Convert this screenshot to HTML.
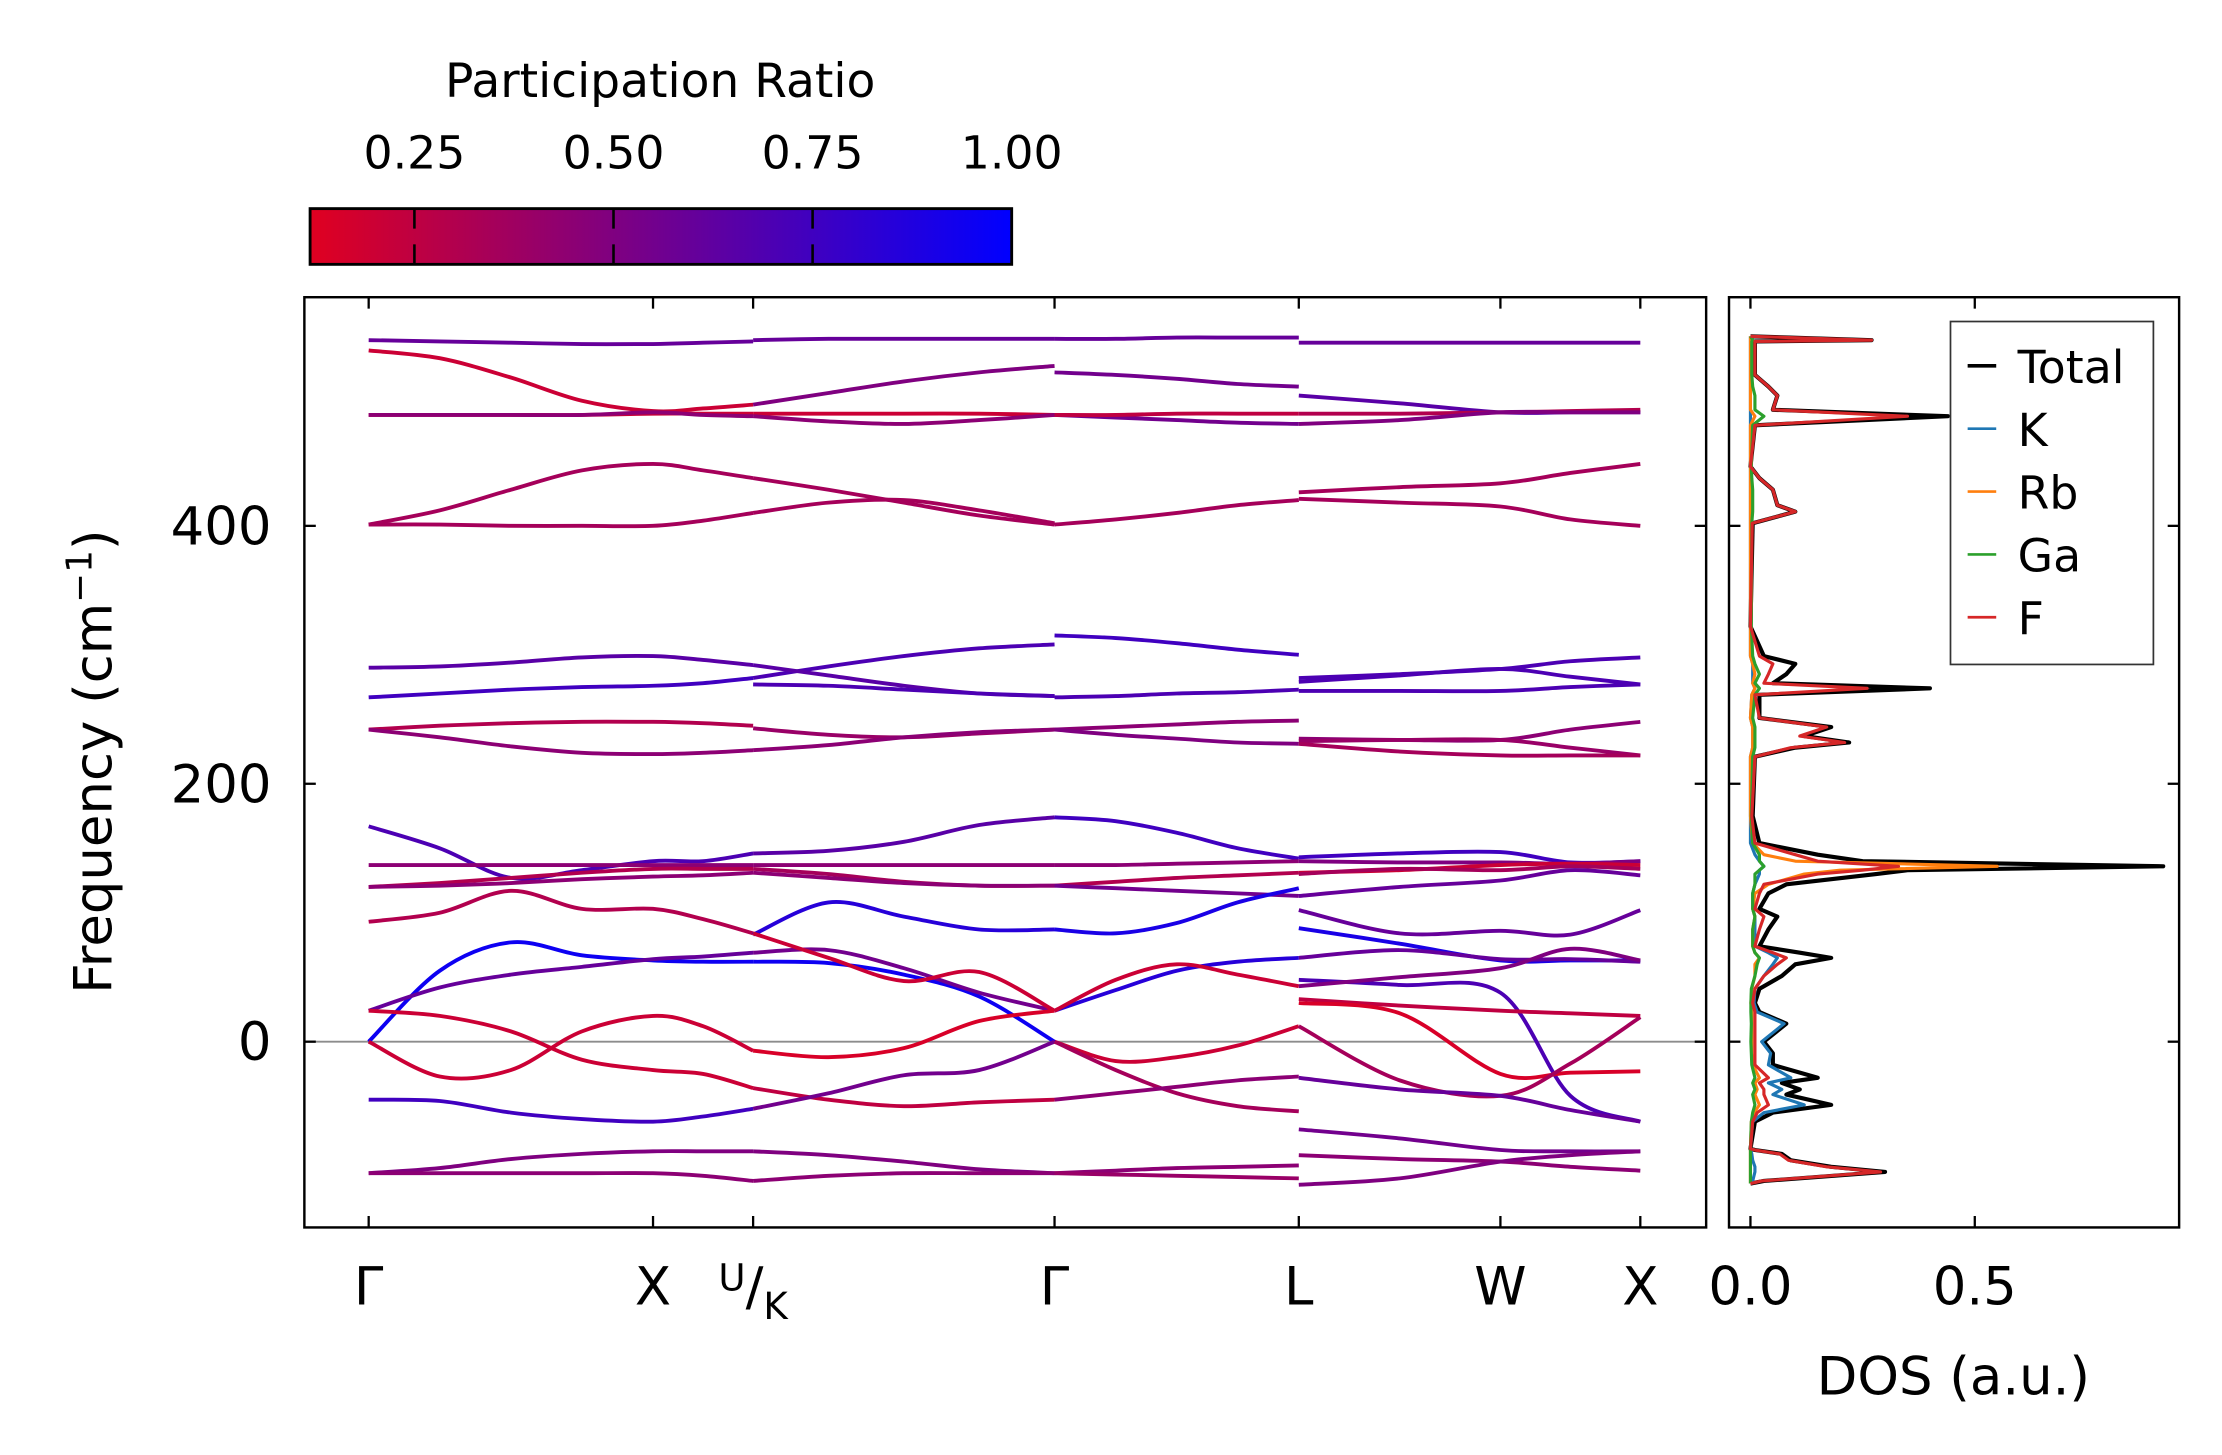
<!DOCTYPE html>
<html><head><meta charset="utf-8"><style>
html,body{margin:0;padding:0;background:#fff}
svg{display:block}
text{font-family:"DejaVu Sans","Liberation Sans",sans-serif;fill:#000}
</style></head><body>
<svg id="fig" width="2222" height="1455" viewBox="0 0 1555 1018.25" xmlns="http://www.w3.org/2000/svg">
<defs>
<linearGradient id="cmap" x1="0" x2="1" y1="0" y2="0">
<stop offset="0" stop-color="rgb(224,0,32)"/><stop offset="1" stop-color="rgb(0,0,255)"/>
</linearGradient>
<clipPath id="clipMain"><rect x="213" y="208" width="981" height="651"/></clipPath>
<clipPath id="clipDos"><rect x="1210" y="208" width="315" height="651"/></clipPath>
</defs>
<g id="colorbar">
<text x="462" y="68" font-size="33" text-anchor="middle">Participation Ratio</text>
<rect x="217" y="146" width="491" height="39" fill="url(#cmap)" stroke="#000" stroke-width="2"/>
</g>
<g id="bands" clip-path="url(#clipMain)"></g>
<g id="dos" clip-path="url(#clipDos)"></g>
<g id="axes"></g>
<text transform="translate(78,533) rotate(-90)" font-size="37" text-anchor="middle">Frequency (cm<tspan font-size="25" dy="-14">−1</tspan><tspan dy="14">)</tspan></text>
<text x="1367" y="976" font-size="37" text-anchor="middle">DOS (a.u.)</text>
<g id="legend">
<rect x="1365" y="225" width="142" height="240" fill="#fff" stroke="#333" stroke-width="1.2"/>
</g>
</svg>
<script>
// ---------- data ----------
const kTicks = [0, 1.0, 1.352, 2.412, 3.271, 3.980, 4.472];
const kLabels = ["Γ", "X", "U/K", "Γ", "L", "W", "X"];
const yTicks = [0, 200, 400];
const cbTicks = [0.25, 0.50, 0.75, 1.00];
const cbLabels = ["0.25", "0.50", "0.75", "1.00"];
const dosTicks = [0.0, 0.5];
const dosTickLabels = ["0.0", "0.5"];
// k sample grids per path segment
const kGXU = [0, 0.25, 0.5, 0.75, 1.0, 1.176, 1.352];
const kKG = [1.352, 1.617, 1.882, 2.147, 2.412];
const kGL = [2.412, 2.627, 2.842, 3.056, 3.271];
const kLWX = [3.271, 3.626, 3.980, 4.226, 4.472];
// Γ-X-U bands (frequencies, cm-1)
const bandsGXU = [
[544,543,542,541,541,542,543],[536,530,515,497,489,491,494],[486,486,486,486,487,487,487],
[486,486,486,486,488,486,485],[401,401,400,400,400,404,410],[401,412,428,443,448,443,437],
[290,291,294,298,299,296,292],[267,270,273,275,276,278,282],[242,245,247,248,248,247,245],
[242,236,229,224,223,224,226],[167,150,127,133,140,140,146],[137,137,137,137,137,137,137],
[120,123,127,131,134,134,134],[120,121,123,126,128,129,131],[93,100,117,103,103,95,84],
[0,55,77,67,63,62,62],[24,42,52,58,64,66,69],[24,20,8,-14,-22,-25,-36],
[0,-27,-22,8,20,12,-7],[-45,-46,-55,-60,-62,-58,-52],[-102,-98,-91,-87,-85,-85,-85],
[-102,-102,-102,-102,-102,-104,-108]];
const prGXU = [0.6,0.2,0.2,0.45,0.35,0.35,0.65,0.75,0.3,0.45,0.7,0.45,0.3,0.45,0.3,0.95,0.6,0.2,0.2,0.75,0.5,0.45];
// K-Γ bands
const bandsKG = [
[544,545,545,545,545],[494,503,512,519,524],[487,487,487,487,486],[485,481,479,482,486],
[437,428,418,408,401],[410,418,420,412,402],[282,291,299,305,308],[292,284,276,270,268],
[277,276,273,270,268],[243,238,236,239,242],[226,230,236,240,242],[146,148,155,168,174],
[137,137,137,137,137],[134,130,124,121,121],[131,127,123,121,121],[83,108,97,87,87],
[62,61,52,35,0],[69,71,57,38,24],[84,65,47,54,24],[-7,-12,-5,16,24],
[-36,-45,-50,-47,-45],[-52,-40,-26,-22,0],[-85,-88,-93,-99,-102],[-108,-104,-102,-102,-102]];
const prKG = [0.6,0.5,0.2,0.45,0.35,0.35,0.7,0.65,0.7,0.4,0.45,0.65,0.45,0.35,0.45,0.85,0.95,0.55,0.2,0.15,0.25,0.55,0.5,0.45];
// Γ-L bands
const bandsGL = [
[545,545,546,546,546],[519,517,514,510,508],[486,484,482,480,479],[486,486,487,487,487],
[401,405,410,416,420],[315,313,309,304,300],[267,268,270,271,273],[242,244,246,248,249],
[242,238,235,232,231],[174,171,162,150,142],[137,137,138,139,140],[121,124,127,129,131],
[121,119,117,115,113],[87,84,92,108,119],[24,40,55,62,65],[24,48,60,52,43],
[0,-15,-12,-3,12],[0,-22,-40,-50,-54],[-45,-40,-35,-30,-27],[-102,-100,-98,-97,-96],
[-102,-103,-104,-105,-106]];
const prGL = [0.6,0.55,0.55,0.25,0.35,0.75,0.7,0.45,0.5,0.75,0.45,0.3,0.55,0.9,0.85,0.2,0.2,0.35,0.45,0.45,0.4];
// L-W-X bands
const bandsLWX = [
[542,542,542,542,542],[501,495,488,488,488],[487,487,488,489,490],[479,482,488,488,488],
[426,430,433,441,448],[421,418,415,405,400],[282,285,289,295,298],[279,284,289,283,277],
[272,272,272,275,277],[235,234,234,242,248],[233,234,234,228,222],[231,225,222,222,222],
[143,146,147,139,140],[140,139,139,138,140],[131,133,137,138,137],[130,134,133,136,134],
[113,120,125,133,129],[102,84,86,83,102],[88,76,63,63,63],[65,71,64,64,62],
[48,44,38,-42,-62],[43,50,57,72,63],[33,28,24,22,20],[30,22,-25,-24,-23],
[12,-30,-42,-17,19],[-28,-37,-42,-53,-62],[-68,-75,-84,-85,-85],[-88,-91,-93,-97,-100],
[-111,-106,-93,-88,-85]];
const prLWX = [0.6,0.65,0.3,0.5,0.35,0.35,0.7,0.7,0.7,0.45,0.4,0.35,0.75,0.5,0.2,0.35,0.6,0.6,0.9,0.6,0.7,0.5,0.25,0.15,0.35,0.6,0.55,0.45,0.5];
// DOS
const dosFreq = [-110,-108,-101,-97,-92,-87,-84,-83,-62,-55,-49,-41,-37,-32,-28,-18,-9,0,14,23,30,41,51,60,65,69,74,87,97,103,115,122,130,133,136,140,145,154,175,221,228,232,237,244,251,269,274,278,285,293,299,322,402,411,416,428,437,446,478,485,490,501,508,517,543,544,547];
const dosTotal = [0,.03,.30,.18,.09,.07,.01,0,.01,.05,.18,.08,.11,.07,.15,.05,.05,.03,.08,.02,.01,.02,.07,.10,.18,.11,.02,.04,.06,.02,.04,.08,.28,.35,.92,.25,.15,.02,.005,.01,.10,.22,.12,.18,.02,.02,.40,.05,.08,.10,.03,0,.005,.10,.06,.05,.02,0,.01,.44,.05,.06,.04,.01,.01,.27,0];
const dosK = [0,.005,.01,.01,.005,.003,0,0,.005,.03,.12,.05,.07,.04,.09,.04,.045,.025,.075,.015,.008,.01,.03,.05,.06,.04,.01,.01,.01,.005,.005,.01,.02,.02,.03,.02,.01,0,0,0,.005,.005,.005,.005,0,.003,.01,.005,.005,.005,0,0,0,0,0,0,0,0,0,0,0,0,0,0,0,0,0];
const dosRb = [0,0,0,0,0,0,0,0,.002,.008,.02,.01,.015,.01,.02,.005,.003,.003,.003,.003,.001,.003,.01,.01,.02,.01,.005,.005,.01,.005,.01,.04,.12,.20,.55,.10,.03,.005,0,0,.005,.005,.005,.005,0,.003,.01,.005,.01,.005,0,0,0,0,0,0,0,0,0,.01,0,0,0,0,0,0,0];
const dosGa = [0,0,0,0,0,0,0,0,.002,.005,.01,.005,.01,.005,.01,.003,.002,.001,.002,.001,.001,.002,.01,.015,.02,.01,.005,.005,.01,.005,.005,.01,.01,.02,.03,.02,.02,.005,.002,.005,.01,.01,.01,.01,.005,.01,.02,.01,.02,.01,.005,.002,.003,.005,.005,.005,.003,.002,.005,.03,.01,.01,.005,.003,.003,.005,0];
const dosF = [0,.025,.29,.17,.085,.065,.01,0,.005,.015,.04,.03,.03,.02,.04,.01,.01,.01,.01,.01,.005,.01,.03,.06,.08,.05,.01,.02,.03,.01,.02,.03,.15,.25,.33,.15,.10,.01,.003,.01,.09,.21,.11,.17,.02,.01,.26,.03,.04,.05,.02,0,.004,.10,.06,.05,.02,0,.01,.35,.05,.06,.04,.01,.01,.27,0];
const legendNames = ["Total","K","Rb","Ga","F"];
const legendColors = ["#000000","#1f77b4","#ff7f0e","#2ca02c","#d62728"];

// ---------- scales ----------
const MX0=213, MX1=1194, AY0=208, AY1=859, DX0=1210, DX1=1525;
const fy = f => 729 - 0.9025*f;
const kx = k => 258 + 199*k;
const dx = d => 1225 + 314*d;
const CB0=217, CB1=708, CBMIN=0.119, CBMAX=1.0;
const cbx = v => CB0 + (v-CBMIN)/(CBMAX-CBMIN)*(CB1-CB0);
function prColor(v){const u=Math.max(0,Math.min(1,(v-CBMIN)/(CBMAX-CBMIN)));return `rgb(${Math.round(224*(1-u))},0,${Math.round(32+223*u)})`;}
const NS="http://www.w3.org/2000/svg";
function mk(tag, attrs, parent){const e=document.createElementNS(NS,tag);for(const a in attrs)e.setAttribute(a,attrs[a]);parent.appendChild(e);return e;}
function smoothPath(xs, ys){
  let d=`M${xs[0].toFixed(2)},${ys[0].toFixed(2)}`;
  for(let i=0;i<xs.length-1;i++){
    const x0=xs[Math.max(0,i-1)],y0=ys[Math.max(0,i-1)],x1=xs[i],y1=ys[i],x2=xs[i+1],y2=ys[i+1],x3=xs[Math.min(xs.length-1,i+2)],y3=ys[Math.min(xs.length-1,i+2)];
    const c1x=x1+(x2-x0)/6,c1y=y1+(y2-y0)/6,c2x=x2-(x3-x1)/6,c2y=y2-(y3-y1)/6;
    d+=` C${c1x.toFixed(2)},${c1y.toFixed(2)} ${c2x.toFixed(2)},${c2y.toFixed(2)} ${x2.toFixed(2)},${y2.toFixed(2)}`;
  }
  return d;
}
const gB=document.getElementById('bands');
const zl=mk('line',{x1:MX0,x2:MX1,y1:fy(0),y2:fy(0),stroke:'#8c8c8c','stroke-width':1.3},gB);


function drawBands(ks, bands, prs, seg){
  bands.forEach((b,i)=>{
    const p=mk('path',{d:smoothPath(ks.map(kx), b.map(fy)),fill:'none',stroke:prColor(prs[i]),'stroke-width':2.7,'stroke-linecap':'butt'},gB);
    
    
  });
}
drawBands(kGXU,bandsGXU,prGXU,'gxu');
drawBands(kKG,bandsKG,prKG,'kg');
drawBands(kGL,bandsGL,prGL,'gl');
drawBands(kLWX,bandsLWX,prLWX,'lwx');

// DOS
const gD=document.getElementById('dos');
const dosSeries=[dosTotal,dosK,dosRb,dosGa,dosF];
const dosWidths=[2.9,2.2,2.2,2.2,2.2];
[0,1,2,3,4].forEach(si=>{
  const pts=dosFreq.map((f,i)=>dx(dosSeries[si][i]).toFixed(2)+','+fy(f).toFixed(2)).join(' ');
  const pl=mk('polyline',{points:pts,fill:'none',stroke:legendColors[si],'stroke-width':dosWidths[si],'stroke-linejoin':'round'},gD);
  
  
});

// Axes
const gA=document.getElementById('axes');
const fr1=mk('rect',{x:MX0,y:AY0,width:MX1-MX0,height:AY1-AY0,fill:'none',stroke:'#000','stroke-width':1.7},gA);


const fr2=mk('rect',{x:DX0,y:AY0,width:DX1-DX0,height:AY1-AY0,fill:'none',stroke:'#000','stroke-width':1.7},gA);


const TL=8;
yTicks.forEach(v=>{
  const y=fy(v);
  [[MX0,MX0+TL],[MX1,MX1-TL],[DX0,DX0+TL],[DX1,DX1-TL]].forEach(([a,b])=>{
    const t=mk('line',{x1:a,x2:b,y1:y,y2:y,stroke:'#000','stroke-width':1.6},gA);
    
    
  });
  const lab=mk('text',{x:190,y:y+13,'font-size':37,'text-anchor':'end'},gA);
  lab.textContent=String(v);
  
  
});
kTicks.forEach((k,i)=>{
  const x=kx(k);
  [[AY0,AY0+TL],[AY1,AY1-TL]].forEach(([a,b])=>{
    const t=mk('line',{x1:x,x2:x,y1:a,y2:b,stroke:'#000','stroke-width':1.6},gA);
    
    
  });
  const lab=mk('text',{x:x,y:913,'font-size':37,'text-anchor':'middle'},gA);
  
  
  if(kLabels[i]==='U/K'){
    lab.innerHTML='<tspan font-size="26" dy="-10">U</tspan><tspan dy="10">/</tspan><tspan font-size="26" dy="10">K</tspan>';
  } else lab.textContent=kLabels[i];
});
dosTicks.forEach((v,i)=>{
  const x=dx(v);
  [[AY0,AY0+TL],[AY1,AY1-TL]].forEach(([a,b])=>{
    const t=mk('line',{x1:x,x2:x,y1:a,y2:b,stroke:'#000','stroke-width':1.6},gA);
    
    
  });
  const lab=mk('text',{x:x,y:913,'font-size':37,'text-anchor':'middle'},gA);
  lab.textContent=dosTickLabels[i];
  
  
});
// colorbar ticks
const gC=document.getElementById('colorbar');
cbTicks.forEach((v,i)=>{
  const x=cbx(v);
  if(i<cbTicks.length-1){
    [[146,160],[185,171]].forEach(([a,b])=>{
      const t=mk('line',{x1:x,x2:x,y1:a,y2:b,stroke:'#000','stroke-width':1.8},gC);
      
      
    });
  }
  const lab=mk('text',{x:x,y:118,'font-size':32,'text-anchor':'middle'},gC);
  lab.textContent=cbLabels[i];
  
  
});
// legend
const gL=document.getElementById('legend');
legendNames.forEach((n,i)=>{
  const y=256+44*i;
  const ln=mk('line',{x1:1377,x2:1397,y1:y,y2:y,stroke:legendColors[i],'stroke-width':i===0?2.6:1.9},gL);
  
  
  const t=mk('text',{x:1412,y:y+12,'font-size':32},gL);
  t.textContent=n;
  
  
});
</script>
</body></html>
